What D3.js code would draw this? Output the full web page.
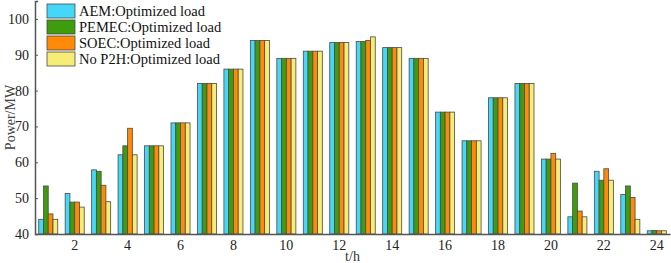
<!DOCTYPE html>
<html>
<head>
<meta charset="utf-8">
<script src="https://cdn.jsdelivr.net/npm/d3@7"></script>
<style>
  body { margin: 0; background: #fff; }
  svg { display: block; font-family: "Liberation Serif", "Times New Roman", serif; }
</style>
</head>
<body>
<svg id="chart" width="671" height="263"></svg>
<script>
const hours = d3.range(1, 25);
const xTicks = [2, 4, 6, 8, 10, 12, 14, 16, 18, 20, 22, 24];
const yTicks = [40, 50, 60, 70, 80, 90, 100];

const seriesNames = ["AEM:Optimized load", "PEMEC:Optimized load", "SOEC:Optimized load", "No P2H:Optimized load"];
const seriesColors = ["#45d7f7", "#3f9c0c", "#ff8a08", "#f7ec76"];

const aem   = [44.1, 51.3, 57.9, 62.1, 64.6, 71, 82, 86, 94, 89, 91, 93.4, 93.7, 92, 89, 74, 66, 78, 82, 60.9, 44.8, 57.5, 51, 40.9];
const pemec = [53.4, 48.9, 57.5, 64.6, 64.6, 71, 82, 86, 94, 89, 91, 93.4, 93.7, 92, 89, 74, 66, 78, 82, 60.9, 54.2, 55, 53.4, 41];
const soec  = [45.6, 48.9, 53.6, 69.5, 64.6, 71, 82, 86, 94, 89, 91, 93.4, 94, 92, 89, 74, 66, 78, 82, 62.5, 46.4, 58.2, 50.2, 40.9];
const noP2H = [44.1, 47.5, 49, 62.1, 64.6, 71, 82, 86, 94, 89, 91, 93.4, 95, 92, 89, 74, 66, 78, 82, 60.9, 44.8, 55, 44.1, 40.9];
const series = [aem, pemec, soec, noP2H];

const svg = d3.select("#chart");
const plotLeft = 35, plotRight = 670, plotTop = 1, plotBottom = 234;
const serif = '"Liberation Serif", "Times New Roman", serif';

const x = d3.scaleBand()
  .domain(hours)
  .range([plotLeft, plotRight])
  .paddingInner(0.28)
  .paddingOuter(0.14);

const xSub = d3.scaleBand()
  .domain(d3.range(series.length))
  .range([0, x.bandwidth()]);

const y = d3.scaleLinear()
  .domain([40, 105])
  .range([plotBottom, plotTop]);

// bars
series.forEach((vals, s) => {
  svg.append("g")
    .selectAll("rect")
    .data(vals)
    .join("rect")
      .attr("x", (d, i) => x(hours[i]) + xSub(s))
      .attr("y", d => y(d))
      .attr("width", xSub.bandwidth())
      .attr("height", d => y(40) - y(d))
      .attr("fill", seriesColors[s])
      .attr("stroke", "#4a4a4a")
      .attr("stroke-width", 0.8);
});

// y axis
const yAxis = svg.append("g")
  .attr("transform", `translate(${plotLeft},0)`)
  .call(d3.axisLeft(y).tickValues(yTicks).tickSize(-3).tickPadding(6))
  .attr("font-family", serif)
  .attr("font-size", 14);
yAxis.select(".domain").attr("stroke", "#555").attr("stroke-width", 1.5);
yAxis.selectAll(".tick line").attr("stroke", "#555");
yAxis.selectAll("text").attr("fill", "#222");

// x axis
const xAxis = svg.append("g")
  .attr("transform", `translate(0,${plotBottom})`)
  .call(d3.axisBottom(x).tickValues(xTicks).tickSize(0).tickPadding(6).tickSizeOuter(0))
  .attr("font-family", serif)
  .attr("font-size", 14);
xAxis.select(".domain").attr("stroke", "#555").attr("stroke-width", 1.5);
xAxis.selectAll("text").attr("fill", "#222");

// axis titles
svg.append("text")
  .attr("transform", `translate(12,${(plotTop + plotBottom) / 2}) rotate(-90)`)
  .attr("text-anchor", "middle")
  .attr("dominant-baseline", "middle")
  .style("font-size", "14px")
  .attr("fill", "#444")
  .text("Power/MW");

svg.append("text")
  .attr("x", (plotLeft + plotRight) / 2)
  .attr("y", 261)
  .attr("text-anchor", "middle")
  .style("font-size", "14px")
  .attr("fill", "#333")
  .text("t/h");

// legend
const legend = svg.append("g").attr("transform", "translate(47,4)");
seriesNames.forEach((name, i) => {
  const row = legend.append("g").attr("transform", `translate(0,${i * 16})`);
  row.append("rect")
    .attr("width", 28).attr("height", 14)
    .attr("fill", seriesColors[i])
    .attr("stroke", "#4a4a4a").attr("stroke-width", 0.8);
  row.append("text")
    .attr("x", 32).attr("y", 7)
    .attr("dominant-baseline", "central")
    .style("font-size", "14.5px")
    .attr("fill", "#111")
    .text(name);
});
</script>
</body>
</html>
